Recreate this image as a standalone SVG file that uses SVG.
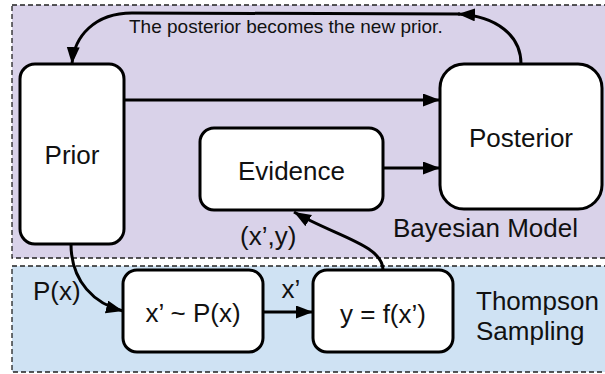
<svg xmlns="http://www.w3.org/2000/svg" width="605" height="374" viewBox="0 0 605 374">
  <defs>
    <marker id="arrow" markerUnits="userSpaceOnUse" markerWidth="18" markerHeight="14" refX="17" refY="6.5" orient="auto">
      <path d="M0,0 L17,6.5 L0,13 Z" fill="#000"/>
    </marker>
    <style>
      .region { stroke: #222; stroke-width: 1.3; stroke-dasharray: 5 3; }
      .node rect { fill: #fff; stroke: #000; stroke-width: 3; }
      .label { font-family: "Liberation Sans", Arial, sans-serif; font-size: 26px; fill: #111; }
      .small { font-family: "Liberation Sans", Arial, sans-serif; font-size: 19px; fill: #111; }
      .edge { fill: none; stroke: #000; stroke-width: 3; }
      .arr { marker-end: url(#arrow); }
    </style>
  </defs>

  <!-- background regions -->
  <rect class="region" x="12" y="5" width="610" height="253" fill="#d9d2e9"/>
  <rect class="region" x="12" y="266" width="610" height="106" fill="#cfe2f3"/>
  <text class="label" x="393" y="237">Bayesian Model</text>
  <text class="label" x="476" y="310">Thompson</text>
  <text class="label" x="476" y="340">Sampling</text>

  <!-- connectors -->
  <g id="connectors">
    <path class="edge arr" d="M124,100 L440,100"/>
    <path class="edge arr" d="M383,168 L440,168"/>
    <path class="edge arr" d="M521,64 C521,36 497,16 458,14"/>
    <path class="edge arr" d="M460,14 L132,13 C95,13 74,36 72,64"/>
    <path class="edge arr" d="M71,244 C71,282 95,304 123,311"/>
    <path class="edge arr" d="M263,312 L313,312"/>
    <path class="edge arr" d="M383,270 C383,245 335,236 294,212"/>
    <text class="small" x="129" y="33">The posterior becomes the new prior.</text>
    <text class="label" x="33" y="300">P(x)</text>
    <text class="label" x="291" y="298" text-anchor="middle">x’</text>
    <text class="label" x="240" y="245">(x’,y)</text>
  </g>

  <!-- nodes -->
  <g id="prior" class="node">
    <rect x="20" y="64" width="104" height="180" rx="15"/>
    <text class="label" x="72" y="164" text-anchor="middle">Prior</text>
  </g>
  <g id="evidence" class="node">
    <rect x="200" y="128" width="183" height="82" rx="14"/>
    <text class="label" x="291.5" y="180" text-anchor="middle">Evidence</text>
  </g>
  <g id="posterior" class="node">
    <rect x="440" y="64" width="162" height="145" rx="24"/>
    <text class="label" x="521" y="147" text-anchor="middle">Posterior</text>
  </g>
  <g id="sample" class="node">
    <rect x="123" y="270" width="140" height="82" rx="14"/>
    <text class="label" x="193" y="322" text-anchor="middle">x’ ~ P(x)</text>
  </g>
  <g id="observe" class="node">
    <rect x="313" y="270" width="140" height="82" rx="14"/>
    <text class="label" x="383" y="323" text-anchor="middle">y = f(x’)</text>
  </g>
</svg>
